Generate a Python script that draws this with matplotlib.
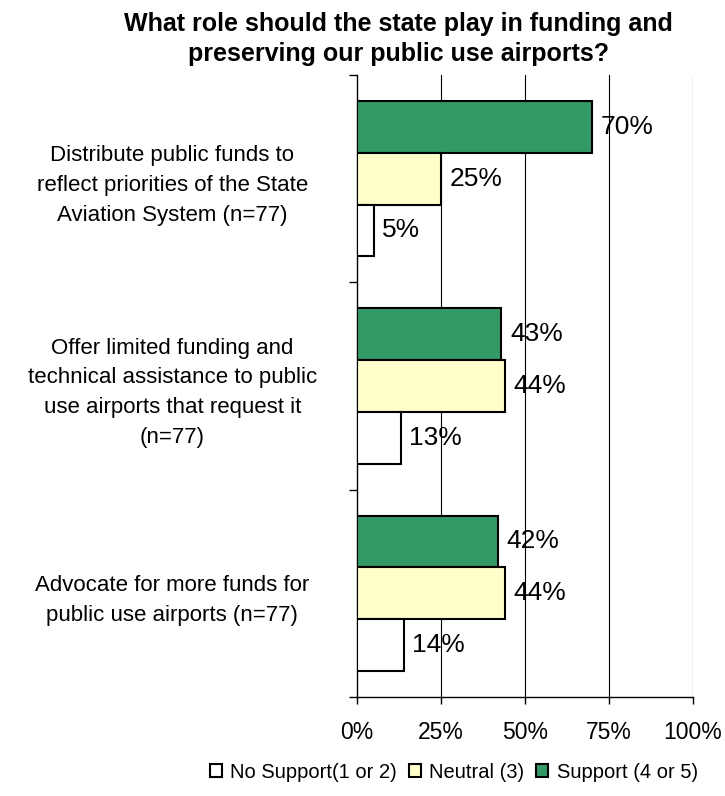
import matplotlib.pyplot as plt
import numpy as np

plt.rcParams['font.family'] = ['Liberation Sans', 'DejaVu Sans']

categories = [
    'Distribute public funds to\nreflect priorities of the State\nAviation System (n=77)',
    'Offer limited funding and\ntechnical assistance to public\nuse airports that request it\n(n=77)',
    'Advocate for more funds for\npublic use airports (n=77)',
]
series_names = ['Support (4 or 5)', 'Neutral (3)', 'No Support(1 or 2)']
support = [70, 43, 42]
neutral = [25, 44, 44]
no_support = [5, 13, 14]
colors = ['#339966', '#FFFFCC', '#FFFFFF']
x_ticks = [0, 25, 50, 75, 100]

fig = plt.figure(figsize=(7.25, 7.96), dpi=100)
ax = fig.add_axes([0.4924, 0.1244, 0.4635, 0.7814])

y = np.arange(len(categories))
h = 0.25
bars = {}
for i, (name, vals, c) in enumerate(zip(series_names, [support, neutral, no_support], colors)):
    pos = y - h + i * h
    b = ax.barh(pos, vals, height=h, color=c, edgecolor='black', linewidth=1.5,
                label=name, zorder=3)
    bars[name] = b
    for p, v in zip(pos, vals):
        ax.text(v + 2.5, p, f'{v}%', va='center', ha='left', fontsize=19, zorder=4)

ax.set_xlim(0, 100)
ax.set_ylim(2.5, -0.5)
ax.set_xticks(x_ticks)
ax.set_xticklabels([f'{t}%' for t in x_ticks], fontsize=16.5)
ax.tick_params(axis='x', length=5, width=1, pad=12)

# category text centred left of the axis
ax.set_yticks(y)
ax.set_yticklabels(categories, fontsize=16, ha='center', linespacing=1.55)
ax.tick_params(axis='y', length=0, pad=133)
ax.set_yticks([-0.5, 0.5, 1.5, 2.5], minor=True)
ax.tick_params(axis='y', which='minor', length=6, width=1)

for t in x_ticks[1:]:
    ax.axvline(t, color='black', linewidth=0.8, zorder=1)
for s in ['top', 'right']:
    ax.spines[s].set_visible(False)
ax.spines['left'].set_linewidth(1)
ax.spines['bottom'].set_linewidth(1)

fig.suptitle('What role should the state play in funding and\npreserving our public use airports?',
             fontsize=18, fontweight='bold', x=0.55, y=0.985, linespacing=1.3)

labels = ['No Support(1 or 2)', 'Neutral (3)', 'Support (4 or 5)']
fig.legend([bars[n] for n in labels], labels,
           loc='center', bbox_to_anchor=(0.626, 0.03), ncol=3, frameon=False,
           fontsize=14.5, handlelength=0.6, handleheight=0.6, handletextpad=0.4,
           columnspacing=0.6)

fig.savefig('out.png', dpi=100)
